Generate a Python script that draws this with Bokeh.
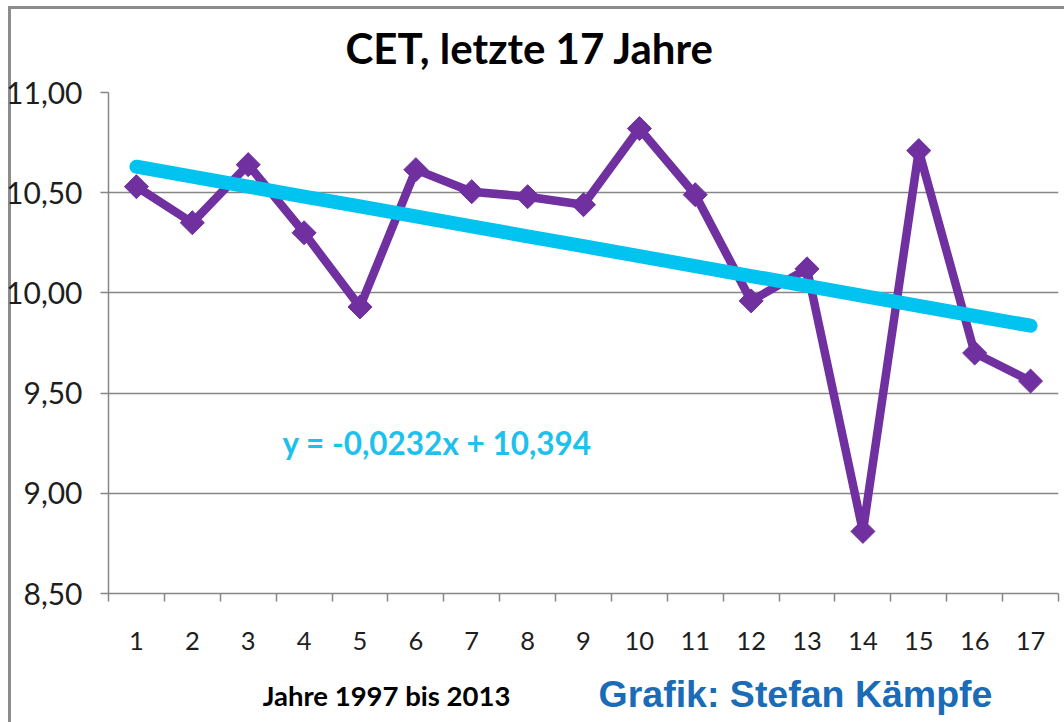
import numpy as np
from bokeh.plotting import figure
from bokeh.layouts import column
from bokeh.models import Range1d, FixedTicker, Label, ColumnDataSource, Title
from bokeh.embed import file_html
from bokeh.resources import INLINE

# ---- data ----
years_idx = list(range(1, 18))
temps = [10.53, 10.35, 10.64, 10.30, 9.93, 10.615, 10.505, 10.48, 10.44,
         10.82, 10.49, 9.96, 10.12, 8.81, 10.71, 9.70, 9.56]
y_ticks = [8.5, 9.0, 9.5, 10.0, 10.5, 11.0]
y_tick_labels = ["8,50", "9,00", "9,50", "10,00", "10,50", "11,00"]
title_text = "CET, letzte 17 Jahre"
equation_text = "y = -0,0232x + 10,394"
xlabel_text = "Jahre 1997 bis 2013"
credit_text = "Grafik: Stefan Kämpfe"

# linear trend fitted to the series
coef = np.polyfit(years_idx, temps, 1)
trend = list(np.polyval(coef, years_idx))

W = 1064
H1, H2 = 668, 54
FRAME_L, FRAME_R, FRAME_T, FRAME_B = 108, 1058, 92, 593

p = figure(width=W, height=H1, output_backend="svg", toolbar_location=None,
           x_range=Range1d(0.5, 17.5), y_range=Range1d(8.5, 11.0),
           min_border_left=FRAME_L, min_border_right=W - FRAME_R,
           min_border_top=FRAME_T, min_border_bottom=H1 - FRAME_B)
p.outline_line_color = None
p.background_fill_color = "white"
p.border_fill_color = None

p.title = Title(text=title_text, align="left", offset=237, standoff=39,
                text_font="Lato", text_font_style="bold",
                text_font_size="42px", text_color="black")

# axes
p.xaxis.ticker = FixedTicker(ticks=years_idx,
                             minor_ticks=[i + 0.5 for i in range(0, 18)])
p.xaxis.major_tick_out = 0
p.xaxis.major_tick_in = 0
p.xaxis.minor_tick_out = 8
p.xaxis.minor_tick_in = 0
p.xaxis.minor_tick_line_color = "#868686"
p.xaxis.minor_tick_line_width = 1.5
p.xaxis.axis_line_color = "#868686"
p.xaxis.axis_line_width = 1.5
p.xaxis.major_label_standoff = 30
p.xaxis.major_label_text_font = "Lato"
p.xaxis.major_label_text_font_size = "25.5px"
p.xaxis.major_label_text_color = "#1e1e1e"

p.yaxis.ticker = FixedTicker(ticks=y_ticks)
p.yaxis.major_label_overrides = {t: l for t, l in zip(y_ticks, y_tick_labels)}
p.yaxis.major_tick_out = 8
p.yaxis.major_tick_in = 0
p.yaxis.minor_tick_out = 0
p.yaxis.minor_tick_in = 0
p.yaxis.major_tick_line_color = "#868686"
p.yaxis.major_tick_line_width = 1.5
p.yaxis.axis_line_color = "#868686"
p.yaxis.axis_line_width = 1.5
p.yaxis.major_label_standoff = 18
p.yaxis.major_label_text_font = "Lato"
p.yaxis.major_label_text_font_size = "30px"
p.yaxis.major_label_text_color = "#1e1e1e"

p.xgrid.grid_line_color = None
p.ygrid.ticker = FixedTicker(ticks=y_ticks)
p.ygrid.grid_line_color = "#868686"
p.ygrid.grid_line_width = 1.5

src = ColumnDataSource(dict(x=years_idx, y=temps, t=trend))

# data series
p.line("x", "y", source=src, line_color="#7030a0", line_width=8.5,
       line_join="round")
p.scatter("x", "y", source=src, marker="square", size=17, angle=np.pi / 4,
          fill_color="#7030a0", line_color="#7030a0")
# trend line
p.line("x", "t", source=src, line_color="#00c3f0", line_width=14,
       line_cap="round")

# equation text (screen units relative to the plot frame)
p.add_layout(Label(x=282 - FRAME_L, y=FRAME_B - 442, x_units="screen",
                   y_units="screen", text=equation_text, text_align="left",
                   text_baseline="middle", text_font="Lato",
                   text_font_style="bold", text_font_size="31.5px",
                   text_color="#1ec0ec"))

# bottom strip with axis caption and credit (frame aligned with p's frame)
p2 = figure(width=W, height=H2, output_backend="svg", toolbar_location=None,
            x_range=Range1d(FRAME_L, FRAME_R), y_range=Range1d(0, H2),
            min_border_left=FRAME_L, min_border_right=W - FRAME_R,
            min_border_top=0, min_border_bottom=0)
p2.axis.visible = False
p2.grid.grid_line_color = None
p2.outline_line_color = None
p2.background_fill_color = None
p2.border_fill_color = None

total = H1 + H2
p2.add_layout(Label(x=386, y=total - 695, text=xlabel_text,
                    text_align="center", text_baseline="middle",
                    text_font="Lato", text_font_style="bold",
                    text_font_size="27.5px", text_color="black"))
p2.add_layout(Label(x=795, y=total - 693, text=credit_text,
                    text_align="center", text_baseline="middle",
                    text_font="Liberation Sans", text_font_style="bold",
                    text_font_size="37.5px", text_color="#1a6cb8"))

layout = column(p, p2, styles={
    "box-shadow": "inset 8px 6px 0 0 white, inset 11px 9px 0 0 #8c8c8c"})

open("out.html", "w").write(file_html(layout, INLINE))
